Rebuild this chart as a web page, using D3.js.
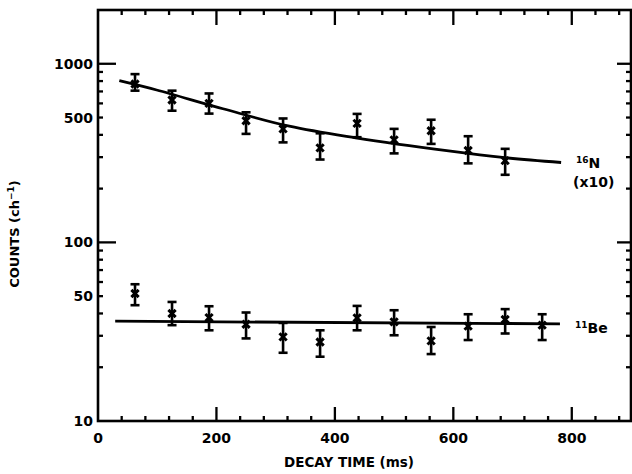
<!DOCTYPE html>
<html>
<head>
<meta charset="utf-8">
<script src="https://cdn.jsdelivr.net/npm/d3@7"></script>
<style>
  body { margin: 0; background: #fff; }
  text { font-family: "DejaVu Sans", sans-serif; font-weight: bold; fill: #000; }
</style>
</head>
<body>
<svg id="chart" width="632" height="474"></svg>
<script>
// decay times (ms) of the data points
const nTime  = [62.5, 125, 187.5, 250, 312.5, 375, 437.5, 500, 562.5, 625, 687.5];
const beTime = [62.5, 125, 187.5, 250, 312.5, 375, 437.5, 500, 562.5, 625, 687.5, 750];

// 16N (x10) counts, with error bar ends
const nCounts = [770, 627, 600, 480, 432, 338, 464, 375, 422, 327, 287];
const nHigh   = [875, 707, 682, 535, 494, 408, 524, 432, 486, 393, 334];
const nLow    = [707, 546, 526, 405, 363, 291, 388, 315, 356, 277, 239];

// 11Be counts, with error bar ends
const beCounts = [51.7, 40.0, 37.9, 34.8, 29.6, 27.7, 37.8, 35.9, 28.1, 34.0, 37.0, 34.4];
const beHigh   = [58.3, 46.4, 43.9, 40.5, 35.4, 32.2, 44.1, 41.7, 33.6, 39.6, 42.3, 39.6];
const beLow    = [44.5, 34.4, 32.2, 29.0, 24.1, 22.9, 32.2, 30.2, 23.7, 28.4, 30.9, 28.4];

// fitted curves
const nFitTime  = [36, 99, 211, 323, 435, 592, 687, 782];
const nFitVal   = [804, 713, 560, 447, 385, 325, 298, 280];
const beFitTime = [29, 780];
const beFitVal  = [36.2, 35.0];

const xTicks = [0, 200, 400, 600, 800];
const yTickLabels = [10, 50, 100, 500, 1000];

const svg = d3.select("#chart");
const pLeft = 98, pRight = 631, pTop = 10, pBottom = 421;

const x = d3.scaleLinear().domain([0, 900]).range([pLeft, pRight]);
const y = d3.scaleLog().domain([10, 2000]).range([pBottom, pTop]);

// frame
svg.append("rect")
  .attr("x", pLeft).attr("y", pTop)
  .attr("width", pRight - pLeft).attr("height", pBottom - pTop)
  .attr("fill", "none").attr("stroke", "#000").attr("stroke-width", 2.6);

// x ticks (bottom and top, pointing inward)
const xMinor = d3.range(40, 900, 40).filter(t => t % 200 !== 0);
const xMajor = [200, 400, 600, 800];
const tickG = svg.append("g").attr("stroke", "#000").attr("stroke-width", 2.3);
xMinor.forEach(t => {
  tickG.append("line").attr("x1", x(t)).attr("x2", x(t)).attr("y1", pBottom).attr("y2", pBottom - 5);
  tickG.append("line").attr("x1", x(t)).attr("x2", x(t)).attr("y1", pTop).attr("y2", pTop + 5);
});
xMajor.forEach(t => {
  tickG.append("line").attr("x1", x(t)).attr("x2", x(t)).attr("y1", pBottom).attr("y2", pBottom - 14);
  tickG.append("line").attr("x1", x(t)).attr("x2", x(t)).attr("y1", pTop).attr("y2", pTop + 15);
});

// y ticks (left and right, pointing inward)
const yMinor = [];
[10, 100, 1000].forEach(d => { for (let k = 2; k <= 9; k++) if (d * k < 2000) yMinor.push(d * k); });
yMinor.forEach(v => {
  tickG.append("line").attr("x1", pLeft).attr("x2", pLeft + 5).attr("y1", y(v)).attr("y2", y(v));
  tickG.append("line").attr("x1", pRight).attr("x2", pRight - 5).attr("y1", y(v)).attr("y2", y(v));
});
[100, 1000].forEach(v => {
  tickG.append("line").attr("x1", pLeft).attr("x2", pLeft + 18).attr("y1", y(v)).attr("y2", y(v));
  tickG.append("line").attr("x1", pRight).attr("x2", pRight - 14).attr("y1", y(v)).attr("y2", y(v));
});

// tick labels
svg.append("g").selectAll("text")
  .data(xTicks).enter().append("text")
  .attr("x", d => x(d)).attr("y", pBottom + 22)
  .attr("text-anchor", "middle").attr("font-size", 14)
  .text(d => d);

svg.append("g").selectAll("text")
  .data(yTickLabels).enter().append("text")
  .attr("x", pLeft - 5).attr("y", d => y(d) + 5)
  .attr("text-anchor", "end").attr("font-size", 14)
  .text(d => d);

// axis titles
svg.append("text")
  .attr("x", 349).attr("y", 467)
  .attr("text-anchor", "middle").attr("font-size", 13.5)
  .text("DECAY TIME (ms)");

const yTitle = svg.append("text")
  .attr("transform", "translate(19,234) rotate(-90)")
  .attr("text-anchor", "middle").attr("font-size", 13);
yTitle.append("tspan").text("COUNTS (ch");
yTitle.append("tspan").attr("dy", -5).attr("font-size", 9).text("−1");
yTitle.append("tspan").attr("dy", 5).text(")");

// fitted curves
const line = d3.line().curve(d3.curveCatmullRom);
svg.append("path")
  .attr("d", line(nFitTime.map((t, i) => [x(t), y(nFitVal[i])])))
  .attr("fill", "none").attr("stroke", "#000").attr("stroke-width", 2.8);
svg.append("path")
  .attr("d", line(beFitTime.map((t, i) => [x(t), y(beFitVal[i])])))
  .attr("fill", "none").attr("stroke", "#000").attr("stroke-width", 2.8);

// data points with error bars
function drawSeries(times, vals, lo, hi) {
  const g = svg.append("g").attr("stroke", "#000").attr("stroke-width", 2.6);
  times.forEach((t, i) => {
    const cx = x(t);
    g.append("line").attr("x1", cx).attr("x2", cx).attr("y1", y(hi[i])).attr("y2", y(lo[i]));
    g.append("line").attr("x1", cx - 4.5).attr("x2", cx + 4.5).attr("y1", y(hi[i])).attr("y2", y(hi[i]));
    g.append("line").attr("x1", cx - 4.5).attr("x2", cx + 4.5).attr("y1", y(lo[i])).attr("y2", y(lo[i]));
    g.append("path")
      .attr("transform", `translate(${cx},${y(vals[i])})`)
      .attr("d", d3.symbol(d3.symbolX, 36)())
      .attr("fill", "none").attr("stroke-width", 3);
  });
}
drawSeries(nTime, nCounts, nLow, nHigh);
drawSeries(beTime, beCounts, beLow, beHigh);

// series labels
const nLab = svg.append("text").attr("x", 576).attr("y", 168).attr("font-size", 14);
nLab.append("tspan").attr("font-size", 9).attr("dy", -5).text("16");
nLab.append("tspan").attr("dy", 5).text("N");
svg.append("text").attr("x", 573).attr("y", 187).attr("font-size", 14).text("(x10)");

const beLab = svg.append("text").attr("x", 575).attr("y", 333).attr("font-size", 14);
beLab.append("tspan").attr("font-size", 9).attr("dy", -5).text("11");
beLab.append("tspan").attr("dy", 5).text("Be");
</script>
</body>
</html>
